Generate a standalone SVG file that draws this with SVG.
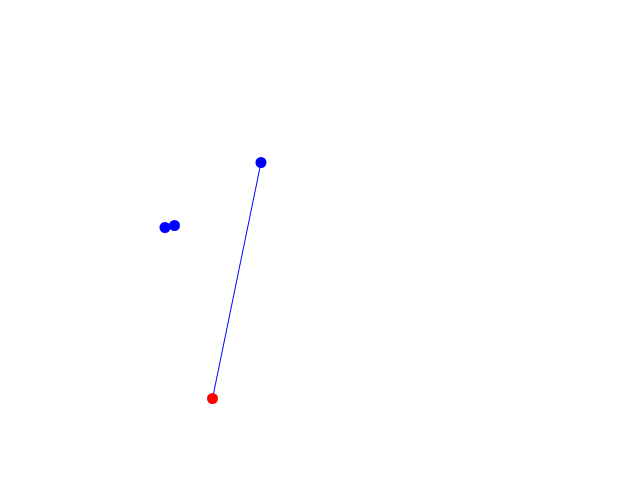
<svg xmlns="http://www.w3.org/2000/svg" width="640" height="480" viewBox="0 0 640 480">
<style>
.b{fill:#0000ff}
.r{fill:#ff0000}
.e{stroke:#0000ff;stroke-width:1;fill:none}
</style>
<rect width="640" height="480" fill="#ffffff"/>
<g id="connectors">
<line class="e" x1="261" y1="162.5" x2="212.5" y2="398.5"/>
</g>
<g id="n1"><circle class="b" cx="261" cy="162.5" r="5.5"/></g>
<g id="n2"><circle class="b" cx="165" cy="227.5" r="5.5"/></g>
<g id="n3"><circle class="b" cx="174.5" cy="225.5" r="5.5"/></g>
<g id="n4"><circle class="r" cx="212.5" cy="398.5" r="5.5"/></g>
</svg>
